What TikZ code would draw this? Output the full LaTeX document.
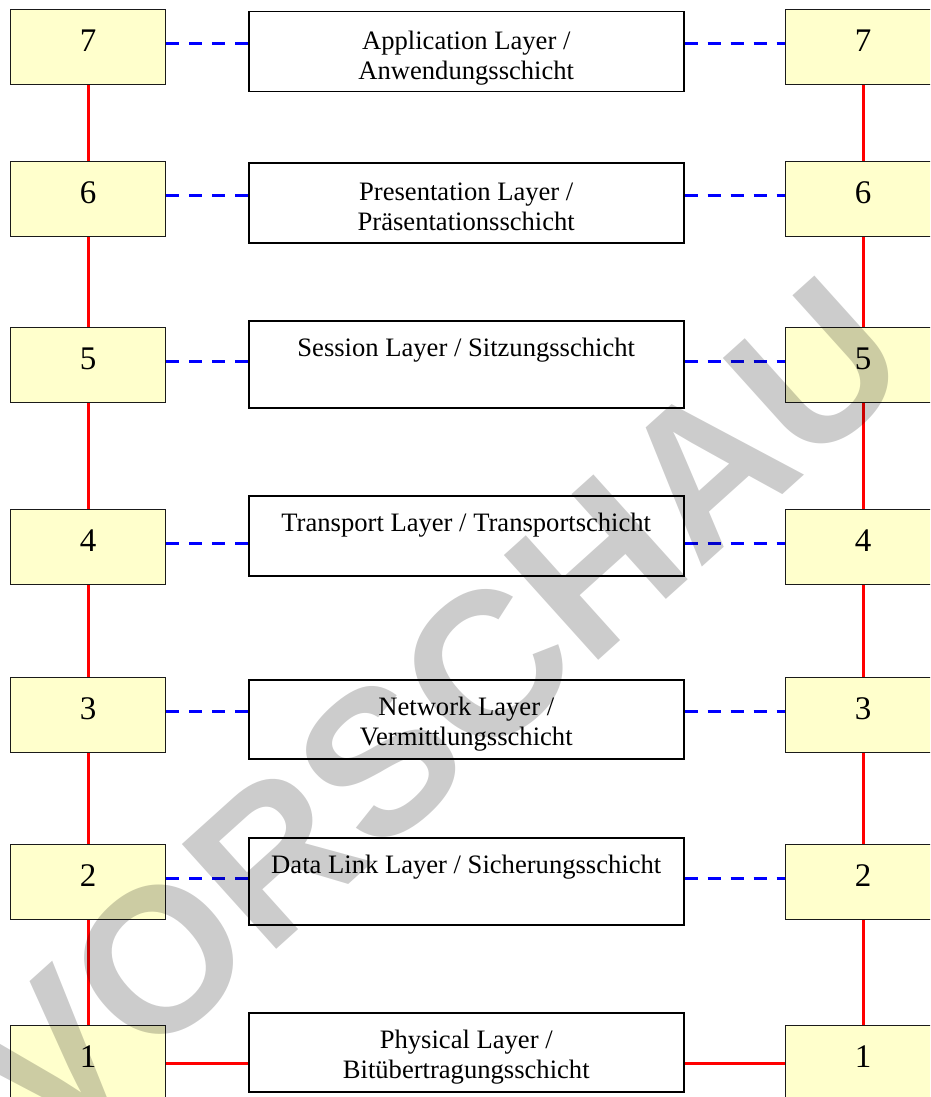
\documentclass[tikz,border=0pt]{standalone}
\usepackage{fontspec}
\setmainfont{Liberation Serif}
\newfontfamily\wmfont{Liberation Sans}
\definecolor{boxyellow}{HTML}{FFFFCC}
\definecolor{boxborder}{HTML}{1A1A1A}
\begin{document}
\begin{tikzpicture}[x=1pt,y=-1pt,
  numbox/.style={draw=boxborder, line width=1.3pt, fill=boxyellow, anchor=north west,
    minimum width=155pt, minimum height=75pt, inner sep=0pt, text height=23pt, text depth=14pt,
    font=\fontsize{33}{38}\selectfont},
  midbox/.style={draw=black, line width=1.5pt, fill=white, anchor=north west,
    minimum width=435pt, inner sep=0pt},
  midtext/.style={anchor=north, align=center, inner sep=0pt,
    font=\fontsize{26.6}{30.6}\selectfont},
  redline/.style={draw=red, line width=3pt},
  blueline/.style={draw=blue, line width=3pt, dash pattern=on 13pt off 10pt}
]
\useasboundingbox (0,0) rectangle (930,1097);
\clip (0,0) rectangle (930,1097);

% left number boxes
\node[numbox] (L7) at (10,9) {7};
\node[numbox] (L6) at (10,161) {6};
\node[numbox] (L5) at (10,327) {5};
\node[numbox] (L4) at (10,509) {4};
\node[numbox] (L3) at (10,677) {3};
\node[numbox] (L2) at (10,844) {2};
\node[numbox] (L1) at (10,1025) {1};
% right number boxes
\node[numbox] (R7) at (785,9) {7};
\node[numbox] (R6) at (785,161) {6};
\node[numbox] (R5) at (785,327) {5};
\node[numbox] (R4) at (785,509) {4};
\node[numbox] (R3) at (785,677) {3};
\node[numbox] (R2) at (785,844) {2};
\node[numbox] (R1) at (785,1025) {1};

% middle layer boxes
\node[midbox, minimum height=80pt] (M7) at (248,11) {};
\node[midbox, minimum height=80pt] (M6) at (248,162) {};
\node[midbox, minimum height=87pt] (M5) at (248,320) {};
\node[midbox, minimum height=80pt] (M4) at (248,495) {};
\node[midbox, minimum height=79pt] (M3) at (248,679) {};
\node[midbox, minimum height=87pt] (M2) at (248,837) {};
\node[midbox, minimum height=79pt] (M1) at (248,1012) {};

\node[midtext] (T7) at ([yshift=-19pt]M7.north) {\rule{0pt}{19pt}Application Layer /\\Anwendungsschicht};
\node[midtext] (T6) at ([yshift=-19pt]M6.north) {\rule{0pt}{19pt}Presentation Layer /\\Präsentationsschicht};
\node[midtext] (T5) at ([yshift=-17pt]M5.north) {\rule{0pt}{19pt}Session Layer / Sitzungsschicht};
\node[midtext] (T4) at ([yshift=-17pt]M4.north) {\rule{0pt}{19pt}Transport Layer / Transportschicht};
\node[midtext] (T3) at ([yshift=-17pt]M3.north) {\rule{0pt}{19pt}Network Layer /\\Vermittlungsschicht};
\node[midtext] (T2) at ([yshift=-17pt]M2.north) {\rule{0pt}{19pt}Data Link Layer / Sicherungsschicht};
\node[midtext] (T1) at ([yshift=-17pt]M1.north) {\rule{0pt}{19pt}Physical Layer /\\Bitübertragungsschicht};

% vertical red lines
\foreach \a/\b in {7/6,6/5,5/4,4/3,3/2,2/1}{
  \draw[redline] (L\a.south) -- (L\b.north);
  \draw[redline] (R\a.south) -- (R\b.north);
}

% blue dashed peer connections
\foreach \r in {7,6,5,4,3,2}{
  \coordinate (d\r) at ([yshift=3.5pt]L\r.east);
  \draw[blueline] (d\r) -- (d\r -| M\r.west);
  \draw[blueline] (d\r -| M\r.east) -- (d\r -| R\r.west);
}
% physical connection
\draw[redline] (L1.east) -- (L1.east -| M1.west);
\draw[redline] (L1.east -| M1.east) -- (R1.west);

% watermark
\node[rotate=42, text=black, text opacity=0.2, inner sep=0pt,
  font=\wmfont\bfseries\fontsize{205}{205}\selectfont] (wm) at (435,712) {VORSCHAU};
\end{tikzpicture}
\end{document}
